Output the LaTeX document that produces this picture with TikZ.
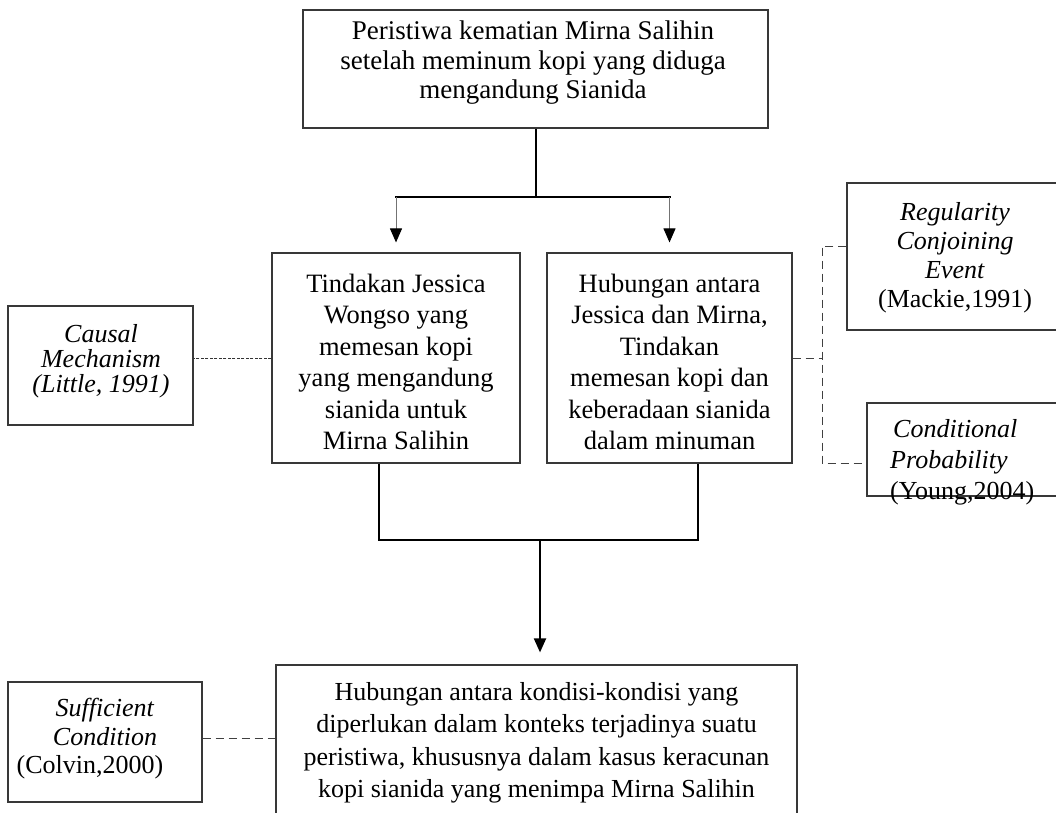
\documentclass[tikz,border=0pt]{standalone}
\usepackage{fontspec}
\setmainfont{Liberation Serif}
\usetikzlibrary{arrows.meta}
\begin{document}
\begin{tikzpicture}[x=1pt,y=-1pt,
  box/.style={draw=black!78, line width=1.2pt, inner sep=0pt},
  txt/.style={inner sep=0pt, align=center, text=black},
  conn/.style={line width=2pt, draw=black},
  arr/.style={line width=1pt, draw=black!55, -{Triangle[length=14pt,width=12pt,color=black]}},
  dsh/.style={line width=1pt, draw=black!75, dash pattern=on 8pt off 5pt},
  fine/.style={line width=1pt, draw=black!80, dash pattern=on 3pt off 1.5pt}]
\useasboundingbox (0,0) rectangle (1056,812);

% boxes
\node[box, minimum width=465pt, minimum height=118pt] (top) at (535.5,69) {};
\node[box, minimum width=248pt, minimum height=210pt] (L) at (396,358) {};
\node[box, minimum width=245pt, minimum height=210pt] (R) at (669.5,358) {};
\node[box, minimum width=185pt, minimum height=119pt] (C) at (100.5,365.5) {};
\node[box, minimum width=213pt, minimum height=147pt] (G) at (953.5,256.5) {};
\node[box, minimum width=193pt, minimum height=93pt] (D) at (963.5,449.5) {};
\node[box, minimum width=194pt, minimum height=120pt] (S) at (105,742) {};
\node[box, minimum width=521pt, minimum height=160pt] (B) at (536.5,745) {};

% texts
\node[txt, font={\fontsize{27}{29.5}\selectfont}] (topt) at (533,63)
  {Peristiwa kematian Mirna Salihin\\setelah meminum kopi yang diduga\\mengandung Sianida};
\node[txt, font={\fontsize{26.5}{31.4}\selectfont}] (Lt) at (396,362)
  {Tindakan Jessica\\Wongso yang\\memesan kopi\\yang mengandung\\sianida untuk\\Mirna Salihin};
\node[txt, font={\fontsize{26.5}{31.4}\selectfont}] (Rt) at (669.5,362)
  {Hubungan antara\\Jessica dan Mirna,\\Tindakan\\memesan kopi dan\\keberadaan sianida\\dalam minuman};
\node[txt, font={\fontsize{26}{25}\selectfont\itshape}] (Ct) at (101,361)
  {Causal\\Mechanism\\(Little, 1991)};
\node[txt, font={\fontsize{26}{29}\selectfont}] (Gt) at (955,258)
  {\textit{Regularity}\\\textit{Conjoining}\\\textit{Event}\\(Mackie,1991)};
\node[txt, align=left, anchor=west, font={\fontsize{26}{31}\selectfont}] (Dt) at (890,462)
  {\hspace*{3pt}\textit{Conditional}\\\textit{Probability}\\(Young,2004)};
\node[txt, font={\fontsize{26}{28.5}\selectfont}] (St) at (105,739)
  {\textit{Sufficient}\\\textit{Condition}\\(Colvin,2000)\hspace*{30pt}};
\node[txt, font={\fontsize{26}{32.5}\selectfont}] (Bt) at (536.5,743)
  {Hubungan antara kondisi-kondisi yang\\diperlukan dalam konteks terjadinya suatu\\peristiwa, khususnya dalam kasus keracunan\\kopi sianida yang menimpa Mirna Salihin};

% top connectors
\coordinate (tj) at (535.5,197);
\draw[conn] (top.south) -- (tj);
\draw[conn, line cap=rect] (L.north |- tj) -- (R.north |- tj);
\draw[arr, shorten >=10pt] (L.north |- tj) -- (L.north);
\draw[arr, shorten >=10pt] (R.north |- tj) -- (R.north);

% bottom connectors
\coordinate (lb) at ([xshift=-17pt]L.south);
\coordinate (rb) at ([xshift=28.5pt]R.south);
\coordinate (bj) at (540,540);
\draw[conn] (lb) |- (bj) -| (rb);
\draw[conn, -{Triangle[length=14pt,width=12pt]}, shorten >=12pt] (bj) -- (bj |- B.north);

% dashed links
\draw[fine] (L.west) -- (C.east |- L.west);
\coordinate (gt) at (822,246);
\coordinate (dt) at (822,463);
\draw[dsh] (R.east) -- (R.east -| gt);
\draw[dsh] (G.west |- gt) -- (gt) -- (dt) -- (D.west |- dt);
\draw[dsh] (S.east |- 0,738) -- (B.west |- 0,738);
\end{tikzpicture}
\end{document}
